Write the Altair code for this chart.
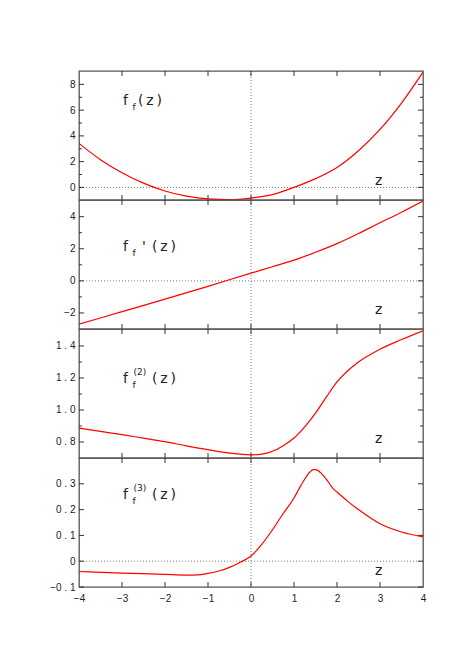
import altair as alt
import pandas as pd

# ---------------- data ----------------
X_DOMAIN = [-4, 4]
X_TICKS = [-3, -2, -1, 0, 1, 2, 3]
X_LABELS = [-4, -3, -2, -1, 0, 1, 2, 3, 4]

f0_x = [-4, -3.5, -3, -2.5, -2, -1.5, -1, -0.5, 0, 0.5, 1, 1.5, 2, 2.5, 3, 3.5, 4]
f0_y = [3.42, 2.15, 1.14, 0.33, -0.28, -0.68, -0.90, -0.957, -0.83, -0.56, 0.0, 0.68, 1.55, 2.85, 4.50, 6.55, 8.95]

f1_x = [-4, -3, -2, -1, 0, 0.5, 1, 1.5, 2, 2.5, 3, 3.5, 4]
f1_y = [-2.70, -1.92, -1.14, -0.34, 0.48, 0.88, 1.29, 1.78, 2.32, 2.95, 3.62, 4.28, 4.98]

f2_x = [-4, -3.5, -3, -2.5, -2, -1.5, -1, -0.5, 0, 0.25, 0.5, 0.75, 1, 1.25, 1.5, 1.75, 2, 2.25, 2.5, 3, 3.5, 4]
f2_y = [0.887, 0.866, 0.846, 0.824, 0.802, 0.776, 0.752, 0.731, 0.720, 0.724, 0.742, 0.777, 0.825, 0.895, 0.980, 1.080, 1.175, 1.245, 1.300, 1.380, 1.440, 1.495]

f3_x = [-4, -3, -2, -1.5, -1.25, -1, -0.75, -0.5, -0.25, 0, 0.25, 0.5, 0.75, 1, 1.1, 1.2, 1.3, 1.35, 1.4, 1.45, 1.5, 1.55, 1.6, 1.7, 1.8, 1.9, 2, 2.25, 2.5, 3, 3.5, 4]
f3_y = [-0.040, -0.046, -0.051, -0.054, -0.053, -0.047, -0.038, -0.024, -0.004, 0.020, 0.065, 0.122, 0.185, 0.245, 0.275, 0.305, 0.331, 0.342, 0.350, 0.355, 0.355, 0.352, 0.346, 0.329, 0.307, 0.283, 0.268, 0.232, 0.200, 0.145, 0.113, 0.094]

Y_DOMAINS = [[-0.98, 9.04], [-3.0, 5.04], [0.70, 1.506], [-0.1, 0.4]]
Y_MAJOR = [[0, 2, 4, 6, 8], [-2, 0, 2, 4], [0.8, 1.0, 1.2, 1.4], [-0.1, 0, 0.1, 0.2, 0.3]]
Y_MINOR = [[1, 3, 5, 7], [-1, 1, 3], [0.9, 1.1, 1.3], []]
Y_FORMAT = ["d", "d", ".1f", "~g"]
HAS_ZERO = [True, True, False, True]

LABEL_MAIN = ["f", "f", "f", "f"]
LABEL_SUB = ["f", "f", "f", "f"]
LABEL_SUP = ["", "", "(2)", "(3)"]
LABEL_PRIME = ["", "'", "", ""]
LABEL_ARG = "(\u2009z\u2009)"
AXIS_NAME = "z"

XS = [f0_x, f1_x, f2_x, f3_x]
YS = [f0_y, f1_y, f2_y, f3_y]

# ---------------- layout / style ----------------
W, H = 344, 129
TXT = "#222222"
FONT = "DejaVu Sans"
TICKFONT = "Liberation Sans"
LBL_Y = [34, 51, 54, 41]
ARG_X = [59, 73, 73, 73]


def one():
    return pd.DataFrame({"k": [0]})


def text_layer(txt, x, y, size):
    return alt.Chart(one()).mark_text(
        align="left", baseline="alphabetic", font=FONT, fontSize=size, color=TXT
    ).encode(x=alt.value(x), y=alt.value(y), text=alt.value(txt))


def panel(i, last):
    xs = alt.Scale(domain=X_DOMAIN, nice=False, zero=False)
    ys = alt.Scale(domain=Y_DOMAINS[i], nice=False, zero=False)
    if last:
        xaxis = alt.Axis(values=X_LABELS, format="d", ticks=False, domain=False, grid=False,
                         title=None, labelPadding=6, labelFont=TICKFONT, labelFontSize=10,
                         labelColor=TXT, labelFlush=False)
    else:
        xaxis = None
    yaxis = alt.Axis(values=Y_MAJOR[i], format=Y_FORMAT[i], ticks=False, domain=False,
                     grid=False, title=None, labelPadding=4, labelFont=TICKFONT,
                     labelFontSize=10, labelColor=TXT, labelFlush=False,
                     minExtent=40, maxExtent=40,
                     labelExpr="replace(datum.label, '.', ' . ')")
    X = alt.X("x:Q", scale=xs, axis=xaxis)
    Y = alt.Y("y:Q", scale=ys, axis=yaxis)

    df = pd.DataFrame({"x": XS[i], "y": YS[i]})
    layers = []

    if HAS_ZERO[i]:
        layers.append(alt.Chart(pd.DataFrame({"y": [0]})).mark_rule(
            color="#777777", strokeDash=[1, 2], strokeWidth=1).encode(y=Y))
    layers.append(alt.Chart(pd.DataFrame({"x": [0]})).mark_rule(
        color="#777777", strokeDash=[1, 2], strokeWidth=1).encode(x=X))

    tmaj = pd.DataFrame({"y": Y_MAJOR[i]})
    tmin = pd.DataFrame({"y": Y_MINOR[i]})
    txx = pd.DataFrame({"x": X_TICKS})
    tick = dict(color="#333333", strokeWidth=1)
    layers.append(alt.Chart(tmaj).mark_rule(**tick).encode(y=Y, x=alt.value(0), x2=alt.value(5)))
    layers.append(alt.Chart(tmaj).mark_rule(**tick).encode(y=Y, x=alt.value(W - 5), x2=alt.value(W)))
    if len(Y_MINOR[i]):
        layers.append(alt.Chart(tmin).mark_rule(**tick).encode(y=Y, x=alt.value(0), x2=alt.value(3)))
        layers.append(alt.Chart(tmin).mark_rule(**tick).encode(y=Y, x=alt.value(W - 3), x2=alt.value(W)))
    layers.append(alt.Chart(txx).mark_rule(**tick).encode(x=X, y=alt.value(0), y2=alt.value(5)))
    layers.append(alt.Chart(txx).mark_rule(**tick).encode(x=X, y=alt.value(H - 5), y2=alt.value(H)))

    layers.append(alt.Chart(df).mark_line(color="#ff0000", strokeWidth=1.2,
                                          interpolate="monotone", clip=True).encode(x=X, y=Y))

    by = LBL_Y[i]
    layers.append(text_layer(LABEL_MAIN[i], 44, by, 14))
    layers.append(text_layer(LABEL_SUB[i], 53.5, by + 5, 9))
    if LABEL_SUP[i]:
        layers.append(text_layer(LABEL_SUP[i], 54.5, by - 8, 9))
    if LABEL_PRIME[i]:
        layers.append(text_layer(LABEL_PRIME[i], 63, by, 14))
    layers.append(text_layer(LABEL_ARG, ARG_X[i], by, 14))
    layers.append(text_layer(AXIS_NAME, 296, 114 if i < 3 else 117, 14))

    return alt.layer(*layers).properties(width=W, height=H)


chart = alt.vconcat(*[panel(i, i == 3) for i in range(4)], spacing=0, bounds="flush").properties(
    padding={"left": 30, "top": 61, "right": 10, "bottom": 10},
    background="white",
).configure_view(stroke="#555555", strokeWidth=1.3)

chart.save("out.html", embed_options={"renderer": "svg", "actions": False})
